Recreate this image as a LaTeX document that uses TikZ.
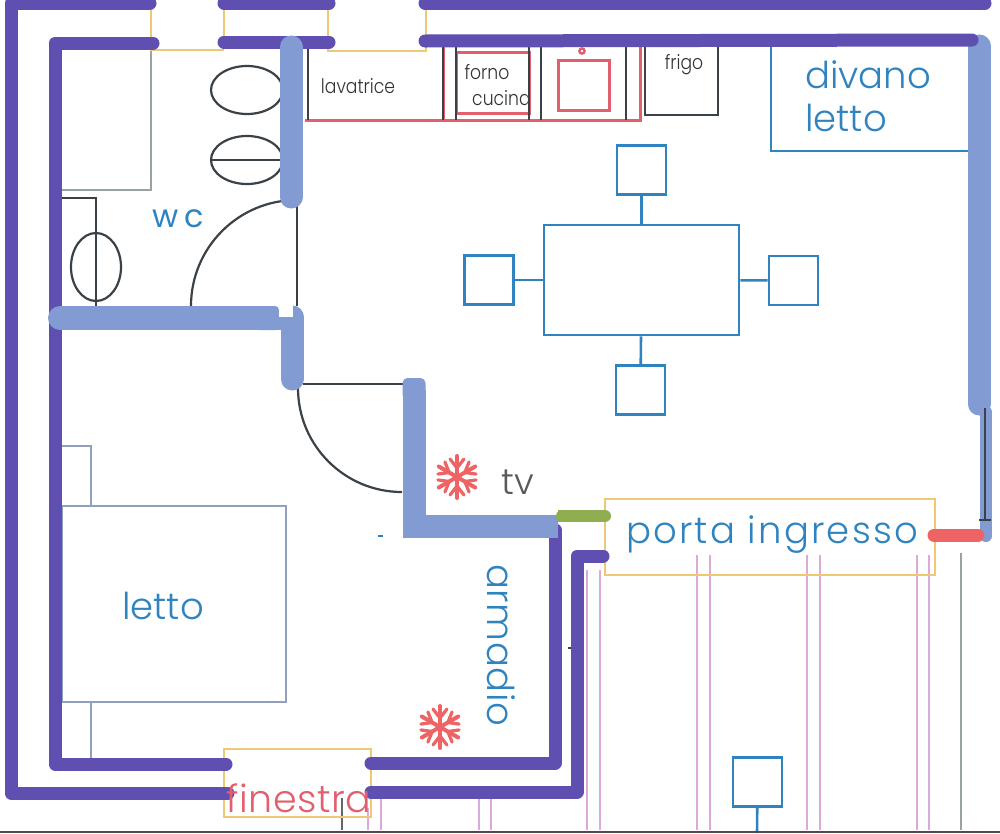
\documentclass[tikz,border=0pt]{standalone}
\usepackage{fontspec}
\setmainfont{Poppins}[UprightFont=* Light]
\newfontfamily\wcfont{Poppins}
\definecolor{wallp}{HTML}{5E4FB0}
\definecolor{wallb}{HTML}{829BD2}
\definecolor{bluef}{HTML}{2F84C0}
\definecolor{redf}{HTML}{E2606E}
\definecolor{yel}{HTML}{EFC873}
\definecolor{dark}{HTML}{3A4248}
\definecolor{bedc}{HTML}{8FA0BC}
\definecolor{pinkl}{HTML}{DDA8DC}
\definecolor{greyl}{HTML}{9AA3A3}
\definecolor{flake}{HTML}{EE6464}
\definecolor{greenw}{HTML}{8FAE50}
\tikzset{
  wallpurple/.style={draw=wallp,line width=13pt,line cap=round,line join=round},
  wallblue/.style={draw=wallb,line width=23pt,line cap=round,line join=round},
  wallbluesq/.style={draw=wallb,line width=23pt,line cap=butt,line join=miter},
  windowline/.style={draw=yel,line width=2.4pt},
  thinblack/.style={draw=dark,line width=2.2pt},
  redline/.style={draw=redf,line width=3pt},
  furn/.style={draw=bluef,line width=2.6pt,inner sep=0pt},
  bedline/.style={draw=bedc,line width=2.2pt},
  pinkline/.style={draw=pinkl,line width=1.4pt},
  greyline/.style={draw=greyl,line width=2.2pt},
  bluetxt/.style={text=bluef,inner sep=0pt},
  smalltxt/.style={text=black!80,inner sep=0pt,font=\fontsize{20}{20}\selectfont\addfontfeature{FakeStretch=0.86}},
  bigtxt/.style={bluetxt,font=\fontsize{37}{37}\selectfont},
  snow/.pic={
    \foreach \a in {30,90,...,330}{
      \draw[draw=flake,line width=4pt,line cap=round,rotate=\a] (0,0) -- (21,0);
      \draw[draw=flake,line width=3.2pt,line cap=round,rotate=\a] (18,7) -- (9,0) -- (18,-7);
    }
  }
}
\begin{document}
\begin{tikzpicture}[x=1pt,y=-1pt]
\useasboundingbox (0,0) rectangle (1000,833);
\fill[white] (0,0) rectangle (1000,833);

% pink and grey lines of the outside
\foreach \x/\s in {587/570,600/570,697/555,710/555,807/555,820/555,917/555,929/555,479/798,491/798,368/808,381/798}
  \draw[pinkline] (\x,\s) -- (\x,830);
\draw[greyline] (961,553) -- (961,830);
\draw[greyline,draw=dark!80] (342,798) -- (342,830);

% bathroom fixtures
\draw[thinblack] (247,90) ellipse (36 and 24);
\draw[thinblack] (247,160) ellipse (36 and 24);
\draw[thinblack] (211,160) -- (283,160);
\draw[greyline] (151,50) -- (151,190) -- (60,190);
\draw[thinblack] (60,198) -- (96,198) -- (96,306);
\draw[thinblack] (96,267) ellipse (25 and 34);

% doors
\draw[thinblack] (191,306) arc (180:270:106);
\draw[thinblack] (297,205) -- (297,306);
\draw[thinblack] (303,384) -- (404,384);
\draw[thinblack] (298,388) arc (180:90:104);

% windows
\draw[windowline] (151,10) -- (151,50) -- (224,50);
\draw[windowline] (224,10) -- (224,36);
\draw[windowline] (328,10) -- (328,51) -- (426,51) -- (426,10);
\draw[windowline] (605,499) rectangle (935,575);
\draw[windowline] (224,749) rectangle (371,817);

% kitchen
\draw[redline] (305,120.5) -- (640,120.5) -- (640,47);
\draw[redline] (443,47) -- (443,120);
\draw[redline] (456,52) rectangle (529,113);
\draw[redline] (558,60) rectangle (609,110);
\draw[redf,line width=2.4pt] (582,51) circle (2.6);
\node[smalltxt] (lav) at (358,86) {lavatrice};
\node[smalltxt] (forno) at (487,72) {forno};
\begin{scope}
\clip (460,80) rectangle (529,112);
\node[smalltxt,anchor=west] (cucina) at (472,98) {cucina};
\end{scope}
\node[smalltxt] (frigo) at (684,65) {frigo};
\foreach \x in {308,443,456,529,541,626}
  \draw[thinblack] (\x,47) -- (\x,120);
\draw[thinblack] (645,47) -- (645,115) -- (718,115) -- (718,47);

% sofa
\draw[furn] (771,47) -- (771,151) -- (968,151);
\node[bigtxt,anchor=west] (divano) at (805,75) {divano};
\node[bigtxt,anchor=west] (lettod) at (805,118) {letto};

% table and chairs
\node[furn,minimum width=195pt,minimum height=110pt] (table) at (641.5,280) {};
\node[furn,minimum size=49pt] (ct) at (641.5,170) {};
\node[furn,minimum size=49pt] (cl) at (489,280) {};
\node[furn,minimum size=49pt] (cr) at (793.5,280.5) {};
\node[furn,minimum size=49pt] (cb) at (640.5,390) {};
\node[furn,minimum size=49pt] (co) at (757.5,782) {};
\coordinate (bot) at (757,833);
\draw[furn] (ct) -- (table);
\draw[furn] (cl) -- (table);
\draw[furn] (cr) -- (table);
\draw[furn] (cb) -- (table);
\draw[furn] (co) -- (bot);

% bed
\draw[bedline] (62,446) -- (91,446) -- (91,506);
\node[bedline,draw,minimum width=224pt,minimum height=196pt,inner sep=0pt] (bed) at (174,604) {};
\draw[bedline] (91,702) -- (91,758);

% walls
\draw[wallpurple] (150,3) -- (11,3) -- (11,793) -- (228,793);
\draw[wallpurple] (153,43) -- (55,43) -- (55,764) -- (226,764);
\draw[wallpurple] (224,3) -- (329,3);
\draw[wallpurple] (224,42) -- (329,42);
\draw[wallpurple] (425,3) -- (985,3);
\draw[wallblue] (979,46) -- (979,404);
\draw[wallpurple] (425,41) -- (972,40);
\draw[wallpurple] (555,530) -- (555,763) -- (371,763);
\draw[wallpurple] (603,556) -- (577,556) -- (577,792) -- (371,792);

\draw[wallblue] (291,47) -- (291,197);
\draw[wallblue,line width=24pt] (60,318) -- (262,318);
\fill[wallb,rounded corners=4pt] (255,306) rectangle (279,330);
\draw[wallblue] (292,317) -- (292,379);
\fill[white] (279,303) rectangle (292.5,317);
\fill[wallb] (270,317) rectangle (295,330);
\draw[wallbluesq] (414,390) -- (414,526) -- (558,526);
\fill[wallb,rounded corners=5pt] (402.5,378) rectangle (425.5,400);
\draw[wallblue,line width=12pt] (986,412) -- (986,536);
\draw[dark,line width=2pt] (985,408) -- (985,520);
\draw[dark,line width=2pt] (979,520) -- (991,520);
\draw[draw=flake,line width=13pt,line cap=round] (934,535) -- (978,535);
\draw[draw=greenw,line width=12pt,line cap=round] (562,516) -- (605,516);
\draw[draw=greenw,line width=12pt] (558,516) -- (564,516);

% snowflakes
\pic at (457,477) {snow};
\pic at (440,727) {snow};

% labels
\node[bluetxt,font=\wcfont\fontsize{32}{32}\selectfont] (wc) at (178,219) {w\,c};
\node[bigtxt] (letto) at (163,606) {letto};
\node[bigtxt,rotate=-90,font=\fontsize{37}{37}\selectfont\addfontfeature{LetterSpace=1.5}] (armadio) at (501,645) {armadio};
\node[bigtxt,anchor=west,font=\fontsize{37}{37}\selectfont\addfontfeature{LetterSpace=6}] (porta) at (626,535) {porta ingresso};
\node[text=black!65,inner sep=0pt,font=\fontsize{36}{36}\selectfont] (tv) at (518,482) {tv};
\node[text=redf,inner sep=0pt,anchor=west,font=\fontsize{38}{38}\selectfont\addfontfeature{LetterSpace=1.5}] (fin) at (226,798) {finestra};

% specks and scan edge
\draw[bluef,line width=1.5pt] (378,536) -- (383,536);
\draw[dark,line width=1.5pt] (568,648) -- (571,648);
\draw[black!70,line width=2pt] (0,832) -- (1000,832);
\end{tikzpicture}
\end{document}
